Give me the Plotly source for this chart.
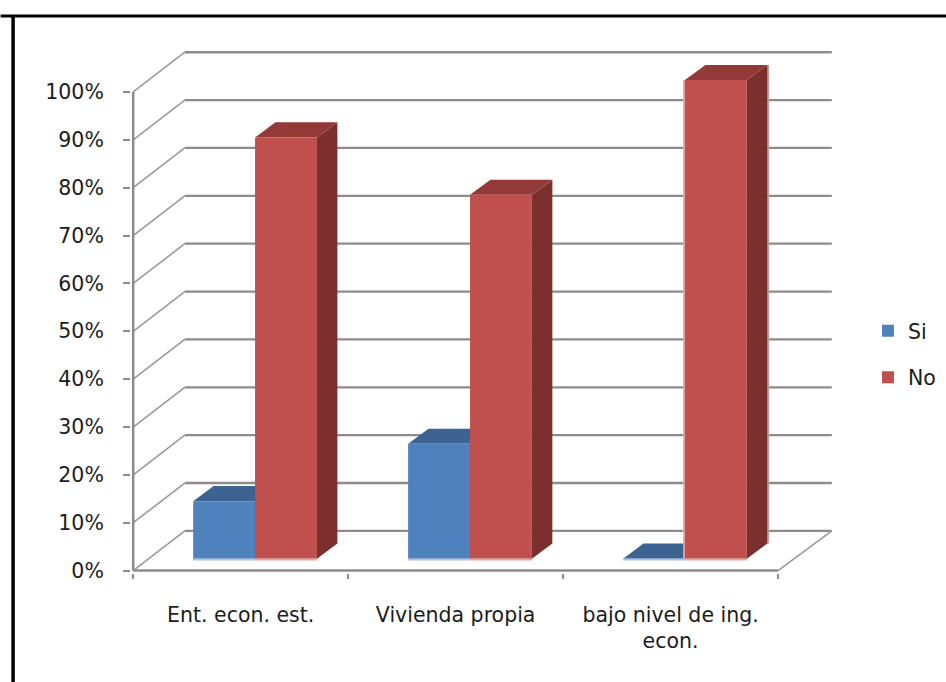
import plotly.graph_objects as go

categories = ["Ent. econ. est.", "Vivienda propia", "bajo nivel de ing.<br>econ."]
si_values = [12, 24, 0]
no_values = [88, 76, 100]
y_ticks = [0, 10, 20, 30, 40, 50, 60, 70, 80, 90, 100]
y_labels = ["0%", "10%", "20%", "30%", "40%", "50%", "60%", "70%", "80%", "90%", "100%"]

W, H = 946, 682
FONT = "DejaVu Sans"
FS = 20.5
TXT = "#1c1c1c"
GRID = "#8c8c8c"

# plot box in pixels and pixels per axis unit
BOX_L, BOX_R, BOX_T, BOX_B = 130.5, 834, 50, 573.4
PX_X, PX_Y = 215.1, 4.79
ZERO_PX = 571
AXIS_L = 132.7

# 3-D look, in axis units
WALL_DX, WALL_DY = 0.24, 8.3
RIGHT_DX = 0.25
BAR_W = 0.288
BAR_SHIFT = 0.067
BAR_BASE = 2.5
BAR_DX, BAR_DY = 0.095, 3.15

x_pos = list(range(len(categories)))
left_edge, right_edge = x_pos[0] - 0.5, x_pos[-1] + 0.5
x_range = [left_edge - (AXIS_L - BOX_L) / PX_X, left_edge + (BOX_R - AXIS_L) / PX_X]
y_range = [-(BOX_B - ZERO_PX) / PX_Y, (ZERO_PX - BOX_T) / PX_Y]


def paper_x(px):
    return (px - BOX_L) / (BOX_R - BOX_L)


def paper_y(px):
    return (BOX_B - px) / (BOX_B - BOX_T)


def line(x0, y0, x1, y1, color=GRID, width=2, layer="below"):
    return dict(type="line", xref="x", yref="y", x0=x0, y0=y0, x1=x1, y1=y1,
                line=dict(color=color, width=width), layer=layer)


def poly(points, color):
    path = "M " + " L ".join(f"{a} {b}" for a, b in points) + " Z"
    return dict(type="path", xref="x", yref="y", path=path, fillcolor=color,
                line=dict(width=0), layer="below")


shapes = []
for t in y_ticks:
    shapes.append(line(left_edge + WALL_DX, t + WALL_DY, right_edge + RIGHT_DX, t + WALL_DY, width=2.3))
    shapes.append(line(left_edge, t, left_edge + WALL_DX, t + WALL_DY, color="#9a9a9a", width=1.6))
shapes.append(line(right_edge, 0, right_edge + RIGHT_DX, WALL_DY, color="#9a9a9a", width=1.6))
shapes.append(line(left_edge, 0, right_edge, 0, width=2.5))


def add_series(values, offset, top_col, side_col, base_col, others=None):
    for i, (c, v) in enumerate(zip(x_pos, values)):
        x0 = c + BAR_SHIFT + offset
        x1 = x0 + BAR_W
        y0, y1 = BAR_BASE, BAR_BASE + v
        if others is not None and others[i] == 0:
            shapes.append(line(x0 - 0.004, y0, x0 - 0.004, y1, color=base_col, width=2))
            shapes.append(line(x1 + BAR_DX + 0.004, y0 + BAR_DY, x1 + BAR_DX + 0.004, y1 + BAR_DY,
                               color="#c39a99", width=2))
        shapes.append(poly([(x1, y0), (x1 + BAR_DX, y0 + BAR_DY), (x1 + BAR_DX, y1 + BAR_DY), (x1, y1)], side_col))
        shapes.append(poly([(x0, y1), (x0 + BAR_DX, y1 + BAR_DY), (x1 + BAR_DX, y1 + BAR_DY), (x1, y1)], top_col))
        shapes.append(line(x0, y0 - 0.2, x1, y0 - 0.2, color=base_col, width=2, layer="above"))


add_series(si_values, -BAR_W, "#3c6391", "#38587f", "#a9c1e3")
add_series(no_values, 0, "#933937", "#7b302e", "#e5a3a1", others=si_values)

# picture frame
for x0, y0, x1, y1, w in [(0, 16, W + 20, 16, 3), (12.5, 16, 12.5, H + 20, 3.5)]:
    shapes.append(dict(type="line", xref="paper", yref="paper",
                       x0=paper_x(x0), x1=paper_x(x1), y0=paper_y(y0), y1=paper_y(y1),
                       line=dict(color="#000000", width=w), layer="above"))

fig = go.Figure()
fig.add_bar(name="Si", x=x_pos, y=si_values, base=BAR_BASE, width=BAR_W,
            offset=BAR_SHIFT - BAR_W, marker=dict(color="#4f81bd", line=dict(width=0)),
            legendgroup="si", hoverinfo="skip")
fig.add_bar(name="No", x=x_pos, y=no_values, base=BAR_BASE, width=BAR_W,
            offset=BAR_SHIFT, marker=dict(color="#c0504d", line=dict(width=0)),
            legendgroup="no", hoverinfo="skip")
# value axis line, limited to the 0%-100% span
fig.add_scatter(x=[left_edge, left_edge], y=[y_ticks[0], y_ticks[-1]], mode="lines",
                line=dict(color=GRID, width=2.5), showlegend=False, hoverinfo="skip",
                cliponaxis=False)

fig.update_layout(
    width=W, height=H, autosize=False,
    margin=dict(l=BOX_L, r=W - BOX_R, t=BOX_T, b=H - BOX_B, pad=0, autoexpand=False),
    paper_bgcolor="white", plot_bgcolor="rgba(0,0,0,0)",
    barmode="overlay", shapes=shapes,
    font=dict(family=FONT, size=FS, color=TXT),
    xaxis=dict(range=x_range, tickmode="array", tickvals=x_pos,
               ticktext=categories, ticks="", showgrid=False, zeroline=False, showline=False,
               ticklabelstandoff=27, tickangle=0, automargin=False,
               minor=dict(tickmode="array", tickvals=[c - 0.5 for c in x_pos] + [right_edge],
                          ticks="outside", ticklen=5, tickwidth=2, tickcolor=GRID, showgrid=False)),
    yaxis=dict(range=y_range, tickmode="array", tickvals=y_ticks, ticktext=y_labels,
               ticks="outside", ticklen=7, tickwidth=2, tickcolor=GRID, showgrid=False,
               zeroline=False, showline=False, ticklabelstandoff=15, automargin=False),
    legend=dict(x=paper_x(882), y=paper_y(311), xanchor="left", yanchor="top",
                bgcolor="rgba(0,0,0,0)", tracegroupgap=17, itemclick=False, itemdoubleclick=False,
                indentation=-14, font=dict(family=FONT, size=FS, color=TXT)),
    showlegend=True,
)

fig.write_html("out.html", post_script="document.body.style.margin='0';",
               config=dict(displayModeBar=False))
